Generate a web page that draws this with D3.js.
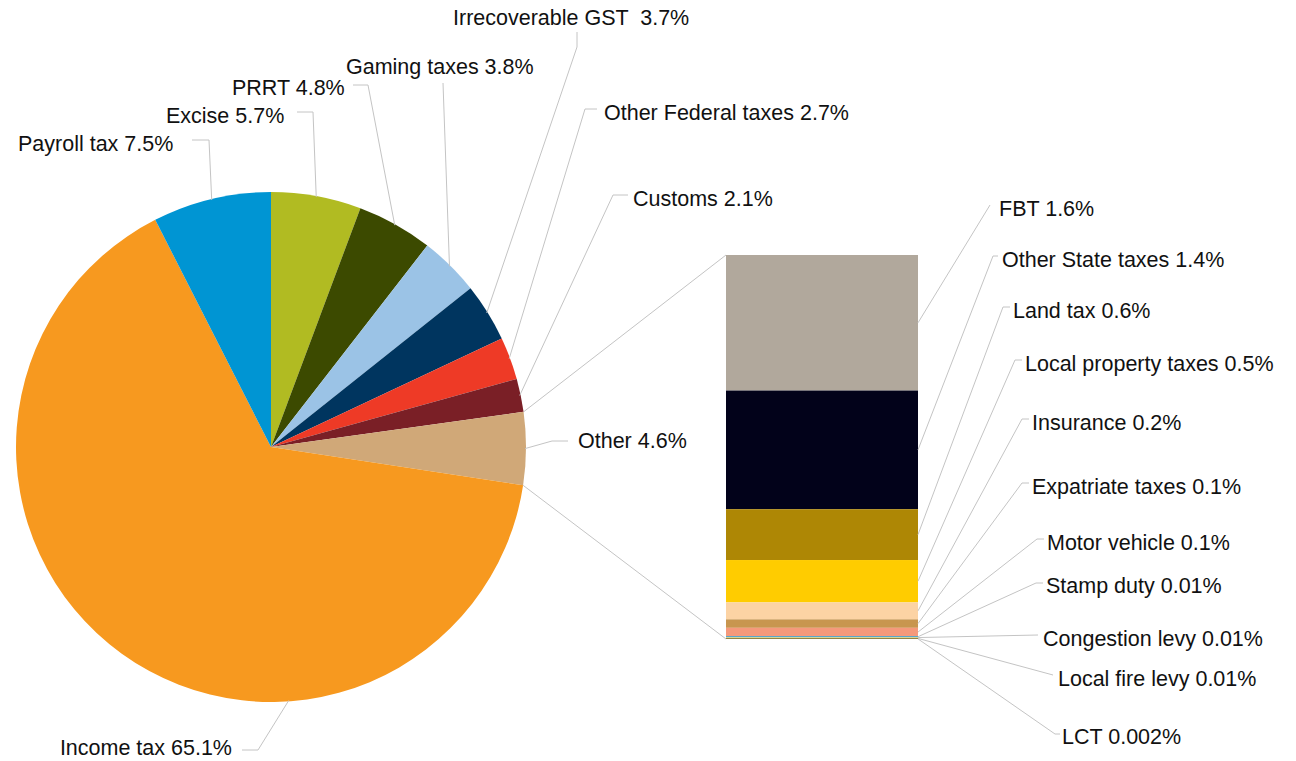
<!DOCTYPE html>
<html>
<head>
<meta charset="utf-8">
<script src="https://cdn.jsdelivr.net/npm/d3@7/dist/d3.min.js"></script>
<style>
  html, body { margin: 0; padding: 0; background: #fff; }
  svg text { font-family: "Liberation Sans", Arial, Helvetica, sans-serif; font-size: 21.5px; fill: #111; white-space: pre; }
</style>
</head>
<body>
<svg id="chart" width="1296" height="761"></svg>
<script>
// Tax revenue shares (% of total)
const pieNames  = ["Excise", "PRRT", "Gaming taxes", "Irrecoverable GST ", "Other Federal taxes", "Customs", "Other", "Income tax", "Payroll tax"];
const pieValues = [5.7, 4.8, 3.8, 3.7, 2.7, 2.1, 4.6, 65.1, 7.5];
const pieColors = ["#b1bb22", "#3c4a00", "#9bc3e6", "#00355f", "#ee3a26", "#7a1f26", "#d0a878", "#f7991f", "#0095d3"];

// Breakdown of the "Other" slice
const barNames  = ["FBT", "Other State taxes", "Land tax", "Local property taxes", "Insurance", "Expatriate taxes", "Motor vehicle", "Stamp duty", "Congestion levy", "Local fire levy", "LCT"];
const barValues = [1.6, 1.4, 0.6, 0.5, 0.2, 0.1, 0.1, 0.01, 0.01, 0.01, 0.002];
const barLabels = ["1.6%", "1.4%", "0.6%", "0.5%", "0.2%", "0.1%", "0.1%", "0.01%", "0.01%", "0.01%", "0.002%"];
const barColors = ["#b1a89c", "#02021a", "#ae8705", "#ffcc00", "#fcd3a4", "#c8964f", "#f5997b", "#1a8fc9", "#d8d48a", "#8a7a2a", "#6b4a10"];

// Label placement: text position and leader elbow points
const pieLabelLayout = [
  { x: 166, y: 123, anchor: "start", pts: [[297,112],[313,112]] },
  { x: 232, y: 95,  anchor: "start", pts: [[353,85],[368,85]] },
  { x: 346, y: 74,  anchor: "start", pts: [[443,83]] },
  { x: 453, y: 25,  anchor: "start", pts: [[577,32],[577,47]] },
  { x: 604, y: 120, anchor: "start", pts: [[597,109],[585,109]] },
  { x: 633, y: 206, anchor: "start", pts: [[628,195],[613,195]] },
  { x: 578, y: 448, anchor: "start", pts: [[568,441],[552,441]] },
  { x: 232, y: 755, anchor: "end",   pts: [[242,750],[258,750]], frac: 0.33 },
  { x: 18,  y: 151, anchor: "start", pts: [[192,140],[209,140]] }
];
const barLabelLayout = [
  { x: 999,  y: 216, pts: [[990,205]] },
  { x: 1002, y: 267, pts: [[998,256],[993,256]] },
  { x: 1013, y: 318, pts: [[1010,307],[1003,307]] },
  { x: 1025, y: 371, pts: [[1022,360],[1015,360]] },
  { x: 1032, y: 430, pts: [[1029,419],[1022,419]] },
  { x: 1032, y: 494, pts: [[1029,483],[1022,483]] },
  { x: 1047, y: 550, pts: [[1044,539],[1037,539]] },
  { x: 1046, y: 593, pts: [[1043,583],[1036,583]] },
  { x: 1043, y: 646, pts: [[1038,635]] },
  { x: 1058, y: 686, pts: [[1053,675]] },
  { x: 1062, y: 744, pts: [[1060,734],[1055,734]] }
];

const svg = d3.select("#chart");
const cx = 271, cy = 447, R = 255;
const lineColor = "#c4c4c4";

const pie = d3.pie().sort(null).value(d => d.value);
const arcs = pie(pieValues.map((v, i) => ({ name: pieNames[i], value: v, color: pieColors[i] })));
const arc = d3.arc().innerRadius(0).outerRadius(R);

const polar = (a, r) => [cx + r * Math.sin(a), cy - r * Math.cos(a)];

// Stacked bar for the "Other" breakdown
const barTotal = d3.sum(barValues);
const yBar = d3.scaleLinear().domain([0, barTotal]).range([255, 639]);
const barX0 = 726, barX1 = 918;
let acc = 0;
const segs = barValues.map((v, i) => {
  const s = { name: barNames[i], label: barLabels[i], v0: acc, v1: acc + v, color: barColors[i] };
  acc += v;
  return s;
});

// Connector lines between the "Other" slice and the bar
const other = arcs[pieNames.indexOf("Other")];
const pTop = polar(other.startAngle, R);
const pBot = polar(other.endAngle, R);
svg.append("g").attr("fill", "none").attr("stroke", lineColor).attr("stroke-width", 1)
  .selectAll("line").data([[pTop, [barX0, yBar(0)]], [pBot, [barX0, yBar(barTotal)]]])
  .join("line")
  .attr("x1", d => d[0][0]).attr("y1", d => d[0][1])
  .attr("x2", d => d[1][0]).attr("y2", d => d[1][1]);

// Pie slices
svg.append("g").attr("transform", `translate(${cx},${cy})`)
  .selectAll("path").data(arcs).join("path")
  .attr("d", arc).attr("fill", d => d.data.color);

// Bar segments
svg.append("g").selectAll("rect").data(segs).join("rect")
  .attr("x", barX0).attr("width", barX1 - barX0)
  .attr("y", d => yBar(d.v0))
  .attr("height", d => yBar(d.v1) - yBar(d.v0))
  .attr("fill", d => d.color);

// Pie leaders and labels
const line = d3.line();
const pieLbl = svg.append("g");
arcs.forEach((d, i) => {
  const L = pieLabelLayout[i];
  const f = L.frac == null ? 0.5 : L.frac;
  const a = d.startAngle + f * (d.endAngle - d.startAngle);
  const anchorPt = polar(a, R - 1);
  pieLbl.append("path").attr("d", line([...L.pts, anchorPt]))
    .attr("fill", "none").attr("stroke", lineColor).attr("stroke-width", 1);
  pieLbl.append("text").attr("x", L.x).attr("y", L.y).attr("text-anchor", L.anchor)
    .text(`${d.data.name} ${d3.format(".1f")(d.data.value)}%`);
});

// Bar leaders and labels
const barLbl = svg.append("g");
segs.forEach((d, i) => {
  const L = barLabelLayout[i];
  const anchorPt = [barX1, (yBar(d.v0) + yBar(d.v1)) / 2];
  barLbl.append("path").attr("d", line([...L.pts, anchorPt]))
    .attr("fill", "none").attr("stroke", lineColor).attr("stroke-width", 1);
  barLbl.append("text").attr("x", L.x).attr("y", L.y).text(`${d.name} ${d.label}`);
});
</script>
</body>
</html>
